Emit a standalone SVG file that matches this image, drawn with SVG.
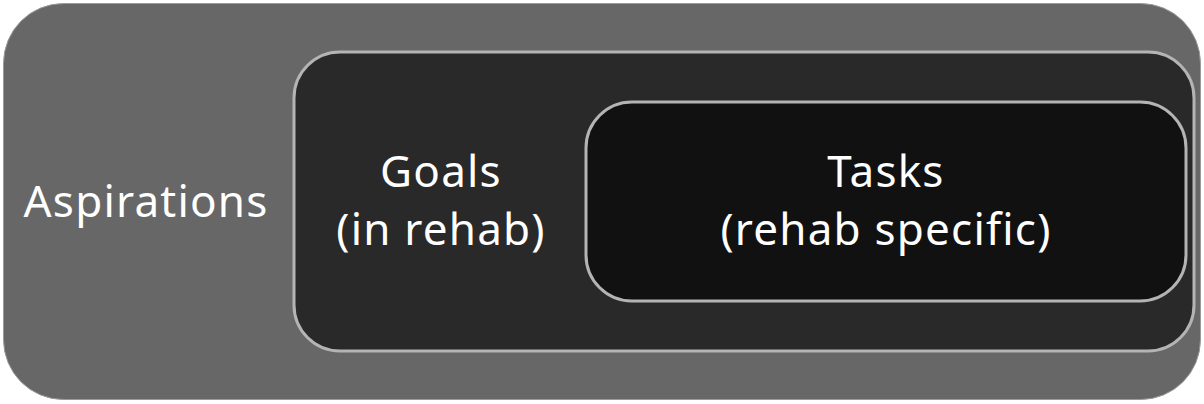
<svg xmlns="http://www.w3.org/2000/svg" width="1204" height="404" viewBox="0 0 1204 404">
<style>
.lbl{font-family:"Noto Sans","DejaVu Sans",sans-serif;font-size:44px;fill:#ffffff;text-anchor:middle;letter-spacing:1.2px}
.box{stroke:#b4b4b4;stroke-width:3}
</style>
<rect width="1204" height="404" fill="#ffffff"/>
<g id="aspirations">
<rect x="3.5" y="3.5" width="1197" height="396" rx="60" ry="60" fill="#676767" stroke="#9a9a9a" stroke-width="1"/>
<text class="lbl" x="146" y="217">Aspirations</text>
</g>
<g id="goals">
<rect class="box" x="294" y="52" width="900" height="299" rx="46" ry="46" fill="#292929"/>
<text class="lbl" x="441" y="187">Goals</text>
<text class="lbl" x="441" y="245">(in rehab)</text>
</g>
<g id="tasks">
<rect class="box" x="586" y="102" width="600" height="199" rx="46" ry="46" fill="#111111"/>
<text class="lbl" x="886" y="187">Tasks</text>
<text class="lbl" x="886" y="245">(rehab specific)</text>
</g>
<g id="connectors"/>
</svg>
